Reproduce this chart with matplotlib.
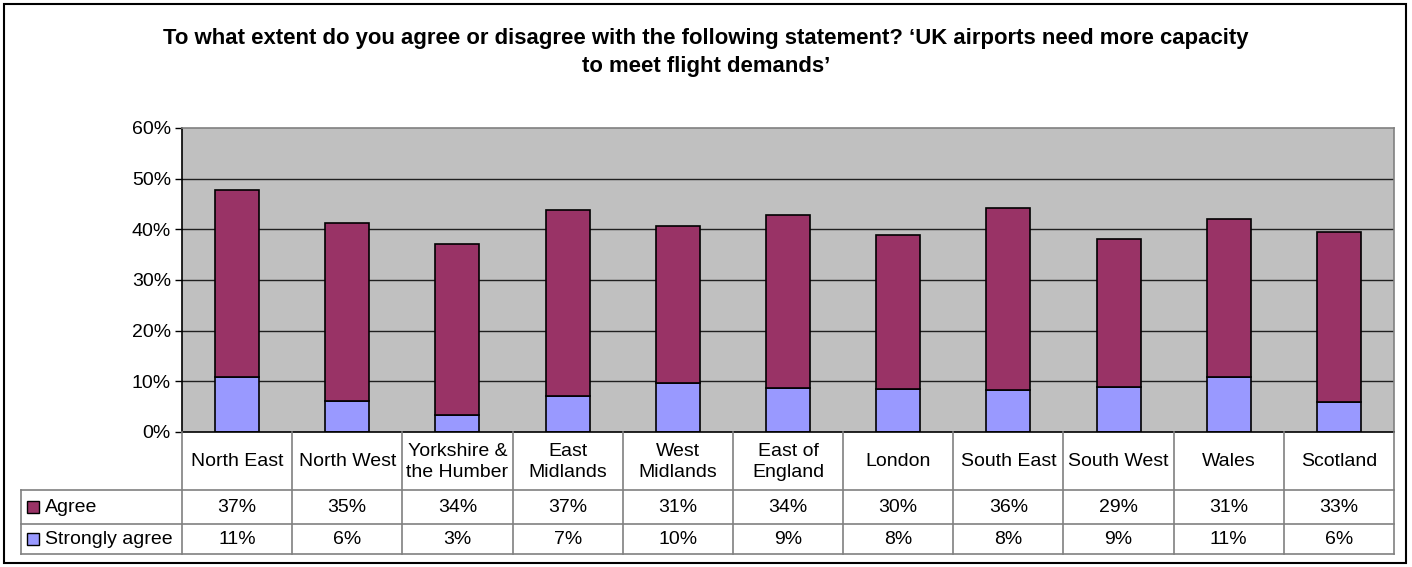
import matplotlib
matplotlib.use("Agg")
import matplotlib.pyplot as plt
from matplotlib.transforms import blended_transform_factory
from matplotlib.patches import Rectangle
from matplotlib.lines import Line2D
import numpy as np

# ---- data ----
categories = ["North East", "North West", "Yorkshire &\nthe Humber", "East\nMidlands",
              "West\nMidlands", "East of\nEngland", "London", "South East",
              "South West", "Wales", "Scotland"]
strongly_agree = [10.8, 6.1, 3.3, 7.2, 9.6, 8.6, 8.4, 8.2, 8.9, 10.8, 6.0]
agree = [37.0, 35.2, 33.8, 36.6, 31.0, 34.3, 30.4, 36.1, 29.1, 31.2, 33.4]
series_names = ["Agree", "Strongly agree"]
yticks = [0, 10, 20, 30, 40, 50, 60]
title = ("To what extent do you agree or disagree with the following statement? "
         "\u2018UK airports need more capacity\nto meet flight demands\u2019")

# ---- style ----
W, H = 1412, 567
plt.rcParams['font.family'] = ['Liberation Sans', 'DejaVu Sans']
c_agree = "#993366"
c_strong = "#9999FF"
c_plot = "#C0C0C0"
c_tbl = "#808080"
fs = 14

fig = plt.figure(figsize=(W / 100, H / 100), dpi=100)
fig.patch.set_facecolor("white")

def fy(y):
    return 1 - y / H

def fx(x):
    return x / W

px_l, px_r, py_t, py_b = 182, 1394, 128, 432
ax = fig.add_axes([fx(px_l), fy(py_b), fx(px_r) - fx(px_l), fy(py_t) - fy(py_b)])
ax.set_facecolor(c_plot)

x = np.arange(len(categories))
bw = 0.4
ax.bar(x, strongly_agree, bw, color=c_strong, edgecolor="black", linewidth=1.2, zorder=3)
ax.bar(x, agree, bw, bottom=strongly_agree, color=c_agree, edgecolor="black", linewidth=1.2, zorder=3)

ax.set_xlim(-0.5, len(categories) - 0.5)
ax.set_ylim(0, 60)
ax.set_yticks(yticks)
ax.set_yticklabels([f"{t}%" for t in yticks], fontsize=fs)
ax.set_xticks([])
ax.tick_params(axis='y', direction='out', length=5, width=1, color='black', pad=3)
for t in yticks[1:-1]:
    ax.axhline(t, color="#202020", linewidth=1.0, zorder=1)
ax.spines['left'].set_color('black')
ax.spines['bottom'].set_color('black')
ax.spines['top'].set_color(c_tbl)
ax.spines['right'].set_color(c_tbl)
for s in ax.spines.values():
    s.set_linewidth(1.2)
ax.spines['bottom'].set_zorder(5)

# ---- data table ----
tr = blended_transform_factory(ax.transData, fig.transFigure)
row_hdr_b = 490
row_a_b = 524
row_s_b = 554
tbl_left = 21

def fline(x0, y0, x1, y1, color=c_tbl, lw=1.2, transform=None):
    fig.add_artist(Line2D([x0, x1], [y0, y1], color=color, linewidth=lw,
                          transform=transform if transform is not None else fig.transFigure))

# vertical column boundaries
for i in range(len(categories) + 1):
    xb = i - 0.5
    fline(xb, fy(py_b), xb, fy(row_s_b), transform=tr)
# horizontal lines
for yy in (row_hdr_b, row_a_b, row_s_b):
    fline(fx(tbl_left), fy(yy), fx(px_r), fy(yy))
# left border of table label column
fline(fx(tbl_left), fy(row_hdr_b), fx(tbl_left), fy(row_s_b))

# category header texts
for i, c in enumerate(categories):
    fig.text(i, fy((py_b + row_hdr_b) / 2 + 1), c, transform=tr, ha='center', va='center',
             fontsize=fs, linespacing=1.3)

# value rows
rows = [(series_names[0], agree, c_agree, row_hdr_b, row_a_b),
        (series_names[1], strongly_agree, c_strong, row_a_b, row_s_b)]
for name, vals, col, y0, y1 in rows:
    yc = fy((y0 + y1) / 2)
    fig.add_artist(Rectangle((fx(27), yc - 6 / H), 12 / W, 12 / H, transform=fig.transFigure,
                             facecolor=col, edgecolor='black', linewidth=1.0))
    fig.text(fx(45), yc, name, ha='left', va='center', fontsize=fs)
    for i, v in enumerate(vals):
        fig.text(i, yc, f"{round(v)}%", transform=tr, ha='center', va='center', fontsize=fs)

# ---- title ----
fig.text(0.5, fy(52.5), title, ha='center', va='center', fontsize=15.9, fontweight='bold',
         linespacing=1.48)

# ---- chart-area border ----
fig.add_artist(Rectangle((fx(4), fy(563)), fx(1406) - fx(4), fy(4) - fy(563),
                         transform=fig.transFigure, fill=False, edgecolor='black', linewidth=1.5))

fig.savefig("out.png", dpi=100, facecolor="white")
